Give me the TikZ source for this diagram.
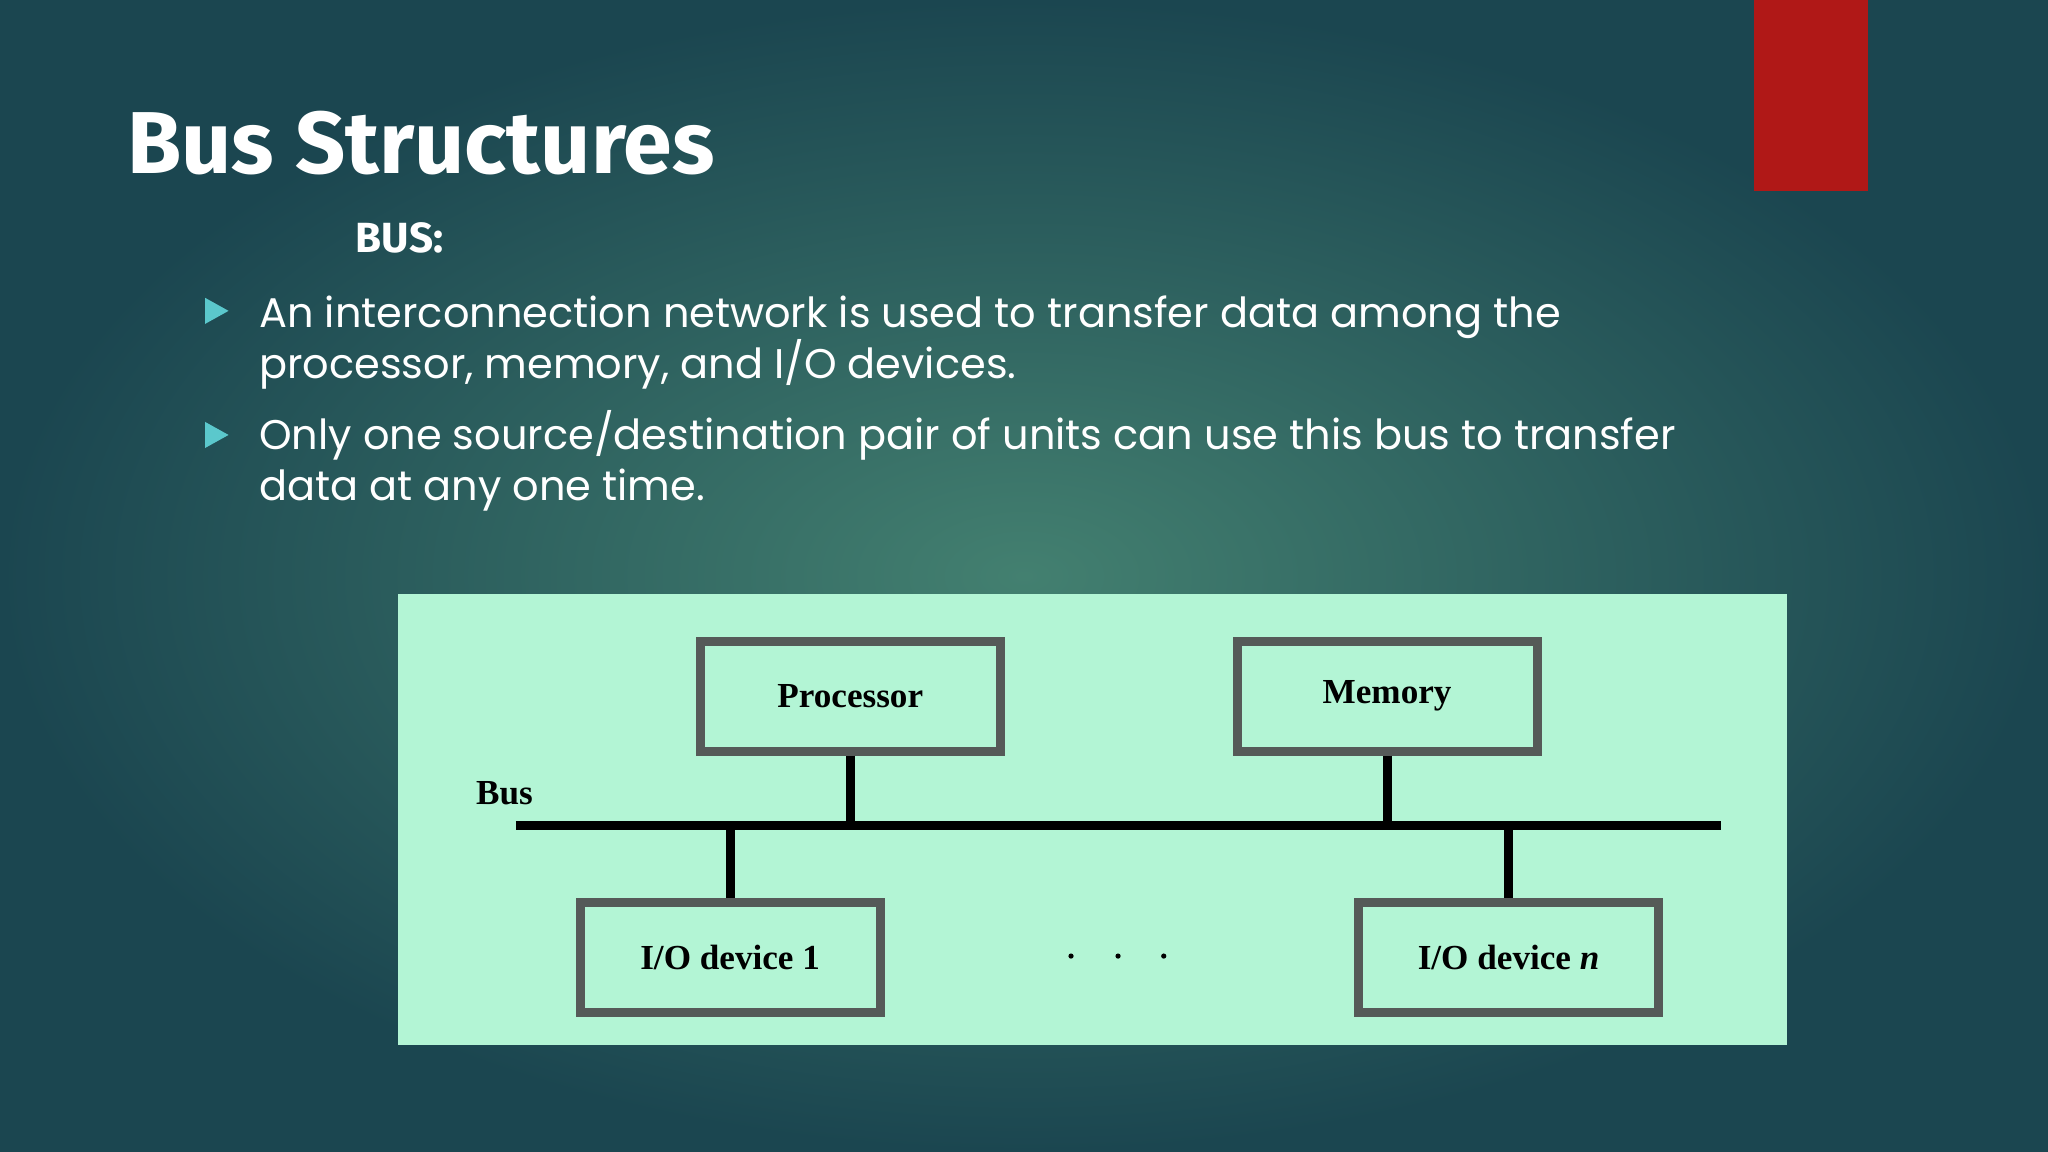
\documentclass[tikz,border=0pt]{standalone}
\usepackage{fontspec}
\setmainfont{Poppins}
\newfontfamily\titlefont{Fira Sans}
\newfontfamily\boxfont{Liberation Serif}
\usetikzlibrary{positioning}
\definecolor{bgdark}{HTML}{1B4650}
\definecolor{bglight}{HTML}{438070}
\definecolor{slidered}{HTML}{B01817}
\definecolor{mint}{HTML}{B3F5D5}
\definecolor{bulletcol}{HTML}{5BC8CC}
\definecolor{boxline}{HTML}{555A58}
\tikzset{
  unit/.style={draw=boxline,line width=2.6pt,minimum width=3.0cm,minimum height=1.1cm,
    font=\boxfont\bfseries\fontsize{10}{12}\selectfont,inner sep=0pt},
  wire/.style={line width=2.6pt,black},
  bullettext/.style={anchor=north west,align=left,text=white,inner sep=0pt,
    font=\fontsize{11.8}{14.4}\selectfont},
  tip/.style={fill=bulletcol,draw=none}
}
\begin{document}
\begin{tikzpicture}[x=0.01306cm,y=-0.01306cm]
  \useasboundingbox (0,0) rectangle (1568,882);
  \shade[inner color=bglight,outer color=bgdark] (0,0) rectangle (1568,882);
  \fill[slidered] (1343,0) rectangle (1430,146);

  \node (title) [anchor=base west,inner sep=0pt,text=white,
    font=\titlefont\bfseries\fontsize{25}{30}\selectfont] at (97,133) {Bus Structures};
  \node (bus) [anchor=base west,inner sep=0pt,text=white,
    font=\titlefont\bfseries\fontsize{12}{15}\selectfont] at (272,193) {BUS:};

  \fill[tip] (157,228) -- (175,238) -- (157,248) -- cycle;
  \node (first) [bullettext] at (198,226)
    {An interconnection network is used to transfer data among the\\
     processor, memory, and I/O devices.};
  \fill[tip] (157,323) -- (175,333) -- (157,343) -- cycle;
  \node (second) [bullettext] at (198,314)
    {Only one source/destination pair of units can use this bus to transfer\\
     data at any one time.};

  % diagram panel
  \fill[mint] (305,455) rectangle (1368,800);
  \node (proc) [unit] at (651,533) {Processor};
  \node (mem)  [unit] at (1062,533) {Memory};
  \node (io1)  [unit] at (559,733) {I/O device 1};
  \node (ion)  [unit] at (1155,733) {I/O device \textit{n}};
  \coordinate (busL) at (395,632);
  \coordinate (busR) at (1318,632);
  \node (buslabel) [anchor=base west,inner sep=0pt,font=\boxfont\bfseries\fontsize{10}{12}\selectfont]
    at (364,616) {Bus};
  \draw[wire] (busL) -- (busR);
  \draw[wire] (proc.south) -- (proc.south |- busL);
  \draw[wire] (mem.south) -- (mem.south |- busL);
  \draw[wire] (io1.north) -- (io1.north |- busL);
  \draw[wire] (ion.north) -- (ion.north |- busL);
  \foreach \x in {820,856,891}
    \fill (\x,732) circle (2);
\end{tikzpicture}
\end{document}
